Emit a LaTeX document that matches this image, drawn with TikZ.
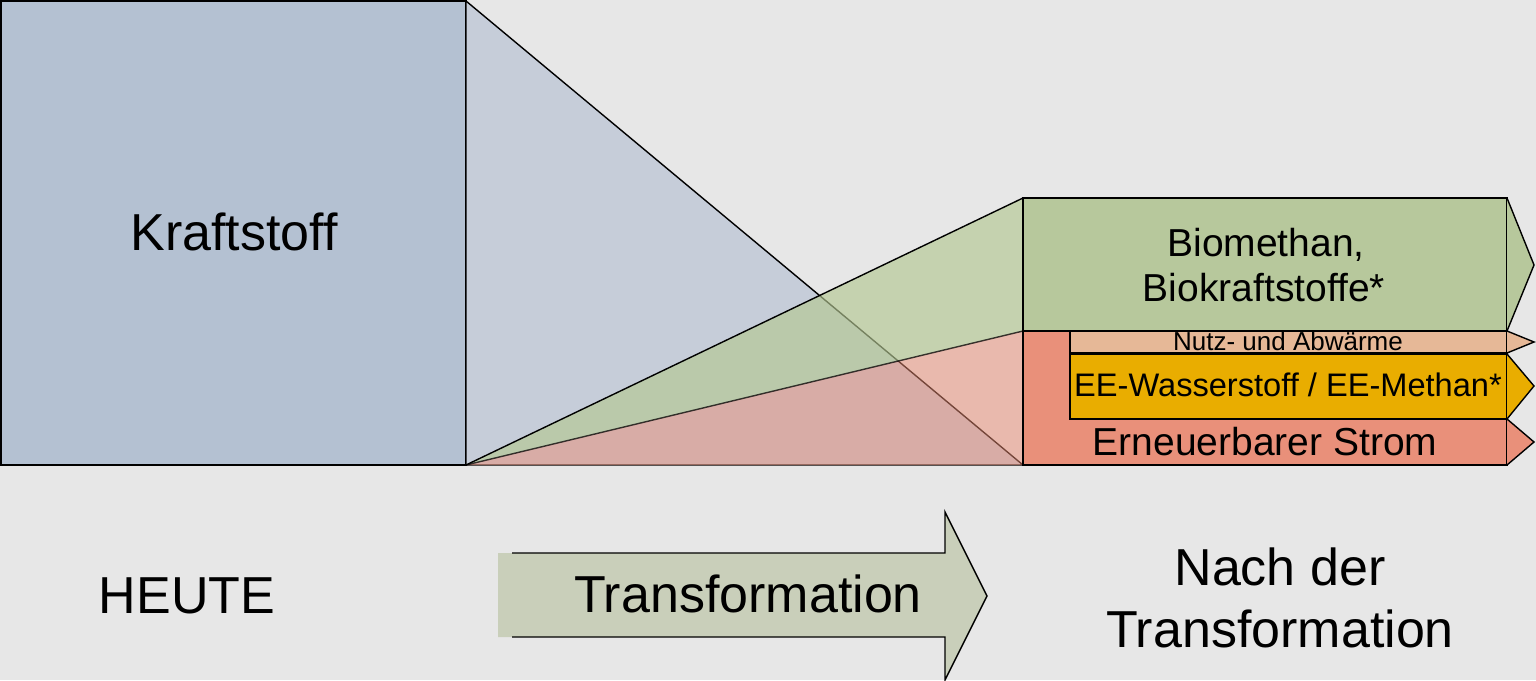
\documentclass[tikz,border=0pt]{standalone}
\usepackage{fontspec}
\setmainfont{Liberation Sans}
\definecolor{bg}{HTML}{E7E7E7}
\definecolor{kraft}{HTML}{B4C1D2}
\definecolor{tri}{HTML}{C6CDD9}
\definecolor{greentri}{HTML}{B4C792}
\definecolor{redtri}{HTML}{EB8D75}
\definecolor{biogreen}{HTML}{B7C89C}
\definecolor{nutz}{HTML}{E6B897}
\definecolor{ee}{HTML}{E9AD00}
\definecolor{strom}{HTML}{E9907A}
\definecolor{arrowfill}{HTML}{C9CFBA}
\begin{document}
\begin{tikzpicture}[x=0.5pt,y=-0.5pt,line width=0.7pt,line join=miter,
  box/.style={draw=black},
  big/.style={font=\fontsize{26pt}{31pt}\selectfont,anchor=base,inner sep=0pt},
  mid/.style={font=\fontsize{19.5pt}{23.5pt}\selectfont,anchor=base,inner sep=0pt},
  eefont/.style={font=\fontsize{16.3pt}{19pt}\selectfont,anchor=base,inner sep=0pt},
  small/.style={font=\fontsize{13pt}{15pt}\selectfont,anchor=base,inner sep=0pt}]
\useasboundingbox (0,0) rectangle (1536,680);
\fill[bg] (0,0) rectangle (1536,680);

% key points
\coordinate (A) at (466,1);
\coordinate (B) at (466,465);
\coordinate (C) at (1023,465);
\coordinate (G1) at (1023,198);
\coordinate (G2) at (1023,331);

% Kraftstoff block
\draw[box,fill=kraft] (1,1) rectangle (466,465);
% blue funnel
\draw[box,fill=tri] (A) -- (C) -- (B) -- cycle;
% green and red wedges (semi transparent)
\fill[greentri,opacity=0.65] (B) -- (G1) -- (G2) -- cycle;
\fill[redtri,opacity=0.5] (B) -- (G2) -- (C) -- cycle;
\draw[black] (B) -- (G1);
\draw[black,opacity=0.75] (B) -- (G2);

% right side arrows
\draw[box,fill=biogreen] (1023,198) rectangle (1507,331);
\draw[box,fill=biogreen] (1507,198) -- (1534,265) -- (1507,331);
\draw[box,fill=strom] (1023,331) rectangle (1507,465);
\draw[box,fill=strom] (1507,419) -- (1534,442) -- (1507,465);
\draw[box,fill=nutz] (1070,331) rectangle (1507,353);
\draw[box,fill=nutz] (1507,331) -- (1534,342) -- (1507,353);
\draw[box,fill=ee] (1070,354) rectangle (1507,419);
\draw[box,fill=ee] (1507,354) -- (1534,386) -- (1507,419);

% bottom arrow
\fill[arrowfill] (498,553) -- (945,553) -- (945,512) -- (987,596) -- (945,680) -- (945,637) -- (498,637) -- cycle;
\draw[black] (512,553) -- (945,553) -- (945,512) -- (987,596) -- (945,680) -- (945,637) -- (512,637);

% texts
\node[big] (kraftstoff) at (234,250) {Kraftstoff};
\node[big] (heute) at (187,613) {HEUTE};
\node[big] (trans) at (748,612) {Transformation};
\node[big] (nach1) at (1280,585) {Nach der};
\node[big] (nach2) at (1280,647) {Transformation};
\node[mid] (bio1) at (1266,256) {Biomethan,};
\node[mid] (bio2) at (1264,301) {Biokraftstoffe*};
\node[small] (nutzt) at (1288,350) {Nutz- und Abwärme};
\node[eefont] (eet) at (1288,396) {EE-Wasserstoff / EE-Methan*};
\node[mid] (stromt) at (1265,455) {Erneuerbarer Strom};
\end{tikzpicture}
\end{document}
